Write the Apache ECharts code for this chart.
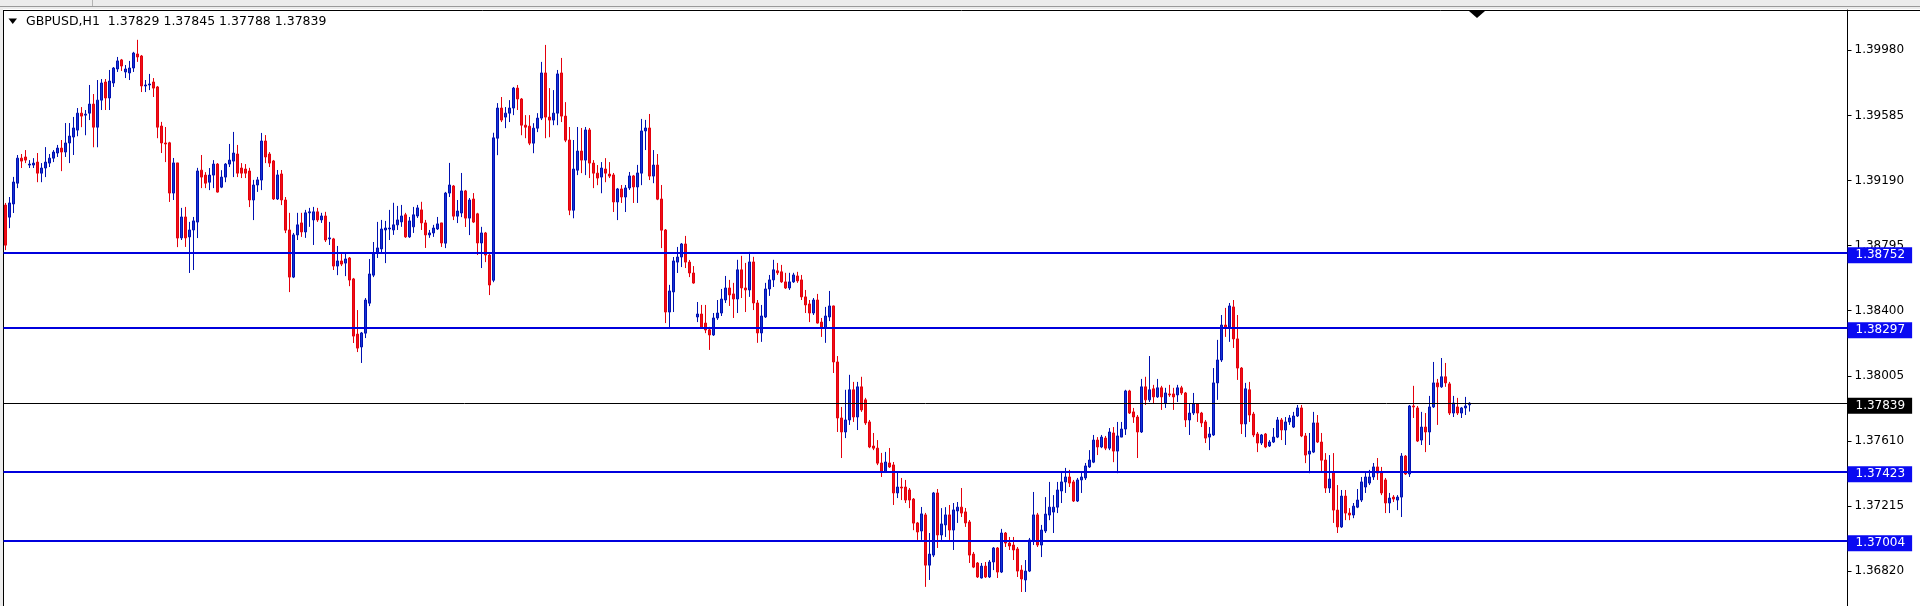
<!DOCTYPE html>
<html>
<head>
<meta charset="utf-8">
<script src="https://cdn.jsdelivr.net/npm/echarts@6/dist/echarts.min.js"></script>
<style>html,body{margin:0;padding:0;background:#fff;overflow:hidden}#c{width:1920px;height:606px}</style>
</head>
<body>
<div id="c"></div>
<script>
// ---- chart values ----
const symbolName = 'GBPUSD,H1';
const lastQuote = ['1.37829', '1.37845', '1.37788', '1.37839'];
const yTicks = [1.36820, 1.37215, 1.37610, 1.38005, 1.38400, 1.38795, 1.39190, 1.39585, 1.39980];
const levels = [1.38752, 1.38297, 1.37423, 1.37004];
const bidLevel = 1.37839;
const slotCount = 461; // hourly slots shown across the chart (incl. empty shift area)

const open = [
1.39041,1.38968,1.39048,1.39174,1.39326,1.39333,1.39284,1.39284,1.39302,1.39235,
1.39266,1.39296,1.39326,1.39357,1.39387,1.39363,1.39418,1.39454,1.39496,1.39599,
1.39587,1.39599,1.39654,1.39514,1.39678,1.39788,1.39691,1.39782,1.39867,1.39922,
1.39849,1.39843,1.39873,1.39958,1.39946,1.39764,1.39770,1.39788,1.39758,1.39521,
1.39418,1.39419,1.39114,1.39297,1.38842,1.38969,1.38848,1.38890,1.38938,1.39253,
1.39223,1.39180,1.39223,1.39290,1.39150,1.39211,1.39290,1.39308,1.39351,1.39266,
1.39260,1.39248,1.39072,1.39163,1.39193,1.39430,1.39351,1.39309,1.39078,1.39230,
1.39072,1.38890,1.38604,1.38860,1.38933,1.38878,1.38994,1.38951,1.39000,1.38951,
1.38975,1.38836,1.38836,1.38671,1.38702,1.38689,1.38720,1.38593,1.38258,1.38180,
1.38264,1.38446,1.38616,1.38750,1.38775,1.38890,1.38896,1.38890,1.38921,1.38939,
1.38982,1.38848,1.38909,1.38975,1.39012,1.38933,1.38860,1.38872,1.38896,1.38933,
1.38810,1.39114,1.39157,1.38974,1.38993,1.39127,1.38962,1.39078,1.38988,1.38811,
1.38872,1.38738,1.38585,1.39447,1.39630,1.39575,1.39599,1.39630,1.39751,1.39685,
1.39526,1.39520,1.39417,1.39508,1.39569,1.39843,1.39575,1.39557,1.39599,1.39843,
1.39581,1.39436,1.39010,1.39253,1.39369,1.39314,1.39497,1.39296,1.39235,1.39211,
1.39260,1.39229,1.39224,1.39060,1.39139,1.39090,1.39145,1.39218,1.39151,1.39235,
1.39491,1.39509,1.39217,1.39284,1.39078,1.38890,1.38392,1.38514,1.38695,1.38726,
1.38805,1.38695,1.38629,1.38362,1.38380,1.38325,1.38284,1.38253,1.38356,1.38386,
1.38465,1.38538,1.38502,1.38471,1.38648,1.38538,1.38526,1.38696,1.38447,1.38265,
1.38362,1.38532,1.38587,1.38642,1.38636,1.38575,1.38538,1.38575,1.38611,1.38587,
1.38484,1.38441,1.38386,1.38465,1.38331,1.38295,1.38362,1.38429,1.38089,1.37749,
1.37664,1.37737,1.37920,1.37755,1.37938,1.37859,1.37725,1.37579,1.37566,1.37476,
1.37421,1.37476,1.37464,1.37294,1.37330,1.37330,1.37312,1.37257,1.37112,1.37063,
1.37161,1.36856,1.36917,1.37294,1.37039,1.37100,1.37161,1.37069,1.37185,1.37208,
1.37179,1.37118,1.36923,1.36869,1.36778,1.36850,1.36784,1.36875,1.36960,1.36814,
1.37051,1.36990,1.36978,1.36954,1.36826,1.36766,1.36820,1.37002,1.37161,1.36978,
1.37063,1.37160,1.37178,1.37208,1.37306,1.37361,1.37391,1.37361,1.37245,1.37373,
1.37385,1.37452,1.37481,1.37615,1.37573,1.37627,1.37566,1.37658,1.37548,1.37633,
1.37682,1.37913,1.37786,1.37755,1.37664,1.37938,1.37859,1.37926,1.37877,1.37932,
1.37840,1.37895,1.37895,1.37889,1.37932,1.37901,1.37737,1.37779,1.37834,1.37779,
1.37725,1.37633,1.37646,1.37962,1.38101,1.38313,1.38301,1.38423,1.38229,1.38052,
1.37713,1.37920,1.37773,1.37652,1.37597,1.37652,1.37579,1.37603,1.37633,1.37737,
1.37676,1.37725,1.37694,1.37761,1.37810,1.37640,1.37530,1.37542,1.37719,1.37603,
1.37494,1.37324,1.37421,1.37190,1.37088,1.37275,1.37172,1.37160,1.37208,1.37251,
1.37330,1.37354,1.37391,1.37452,1.37421,1.37373,1.37233,1.37269,1.37251,1.37269,
1.37518,1.37409,1.37822,1.37810,1.37615,1.37694,1.37664,1.37816,1.37962,1.37938,
1.37999,1.37956,1.37779,1.37816,1.37779,1.37810,1.37829
];
const close = [
1.38798,1.39054,1.39181,1.39326,1.39308,1.39314,1.39290,1.39296,1.39235,1.39266,
1.39302,1.39326,1.39363,1.39387,1.39363,1.39418,1.39460,1.39509,1.39599,1.39581,
1.39593,1.39654,1.39514,1.39678,1.39782,1.39691,1.39794,1.39873,1.39916,1.39885,
1.39867,1.39873,1.39964,1.39940,1.39764,1.39770,1.39776,1.39751,1.39514,1.39418,
1.39412,1.39114,1.39297,1.38841,1.38969,1.38842,1.38890,1.38945,1.39248,1.39211,
1.39174,1.39223,1.39290,1.39120,1.39211,1.39290,1.39314,1.39357,1.39235,1.39235,
1.39235,1.39072,1.39163,1.39194,1.39430,1.39333,1.39296,1.39078,1.39224,1.39072,
1.38889,1.38604,1.38860,1.38921,1.38878,1.38994,1.39000,1.39000,1.38951,1.38975,
1.38829,1.38842,1.38671,1.38702,1.38683,1.38714,1.38586,1.38246,1.38173,1.38265,
1.38465,1.38623,1.38750,1.38781,1.38896,1.38902,1.38902,1.38921,1.38951,1.38975,
1.38848,1.38945,1.38982,1.39024,1.38933,1.38860,1.38872,1.38902,1.38927,1.38811,
1.39114,1.39163,1.38974,1.39005,1.39127,1.38962,1.39072,1.38938,1.38811,1.38872,
1.38738,1.38556,1.39449,1.39630,1.39557,1.39599,1.39630,1.39751,1.39685,1.39526,
1.39514,1.39417,1.39508,1.39569,1.39843,1.39575,1.39557,1.39599,1.39837,1.39581,
1.39435,1.39010,1.39260,1.39369,1.39314,1.39497,1.39296,1.39235,1.39205,1.39266,
1.39235,1.39217,1.39060,1.39139,1.39090,1.39145,1.39218,1.39151,1.39236,1.39491,
1.39509,1.39217,1.39284,1.39077,1.38889,1.38392,1.38520,1.38702,1.38726,1.38805,
1.38695,1.38629,1.38568,1.38380,1.38295,1.38283,1.38253,1.38356,1.38386,1.38471,
1.38538,1.38496,1.38471,1.38648,1.38538,1.38526,1.38696,1.38447,1.38265,1.38368,
1.38532,1.38587,1.38648,1.38630,1.38575,1.38538,1.38575,1.38617,1.38581,1.38484,
1.38435,1.38386,1.38465,1.38325,1.38295,1.38368,1.38429,1.38089,1.37749,1.37664,
1.37737,1.37920,1.37755,1.37938,1.37798,1.37719,1.37573,1.37566,1.37475,1.37421,
1.37482,1.37452,1.37294,1.37330,1.37324,1.37251,1.37251,1.37111,1.37057,1.37167,
1.36856,1.36923,1.37294,1.37039,1.37106,1.37161,1.37069,1.37191,1.37208,1.37172,
1.37112,1.36917,1.36844,1.36784,1.36850,1.36784,1.36875,1.36960,1.36814,1.37051,
1.36990,1.36972,1.36948,1.36820,1.36772,1.36820,1.37009,1.37161,1.36978,1.37069,
1.37166,1.37208,1.37208,1.37312,1.37361,1.37391,1.37354,1.37245,1.37373,1.37391,
1.37458,1.37494,1.37615,1.37573,1.37633,1.37566,1.37664,1.37548,1.37640,1.37682,
1.37913,1.37779,1.37755,1.37664,1.37938,1.37859,1.37920,1.37877,1.37932,1.37877,
1.37901,1.37889,1.37877,1.37932,1.37901,1.37737,1.37779,1.37834,1.37779,1.37719,
1.37627,1.37652,1.37962,1.38101,1.38313,1.38295,1.38429,1.38229,1.38052,1.37713,
1.37926,1.37767,1.37646,1.37597,1.37646,1.37573,1.37603,1.37633,1.37737,1.37676,
1.37725,1.37749,1.37761,1.37810,1.37640,1.37524,1.37548,1.37719,1.37603,1.37493,
1.37324,1.37379,1.37190,1.37088,1.37275,1.37172,1.37160,1.37214,1.37251,1.37361,
1.37391,1.37391,1.37452,1.37415,1.37294,1.37233,1.37263,1.37257,1.37269,1.37518,
1.37409,1.37822,1.37816,1.37609,1.37694,1.37664,1.37816,1.37962,1.37938,1.37999,
1.37962,1.37779,1.37840,1.37779,1.37810,1.37822,1.37839
];
const low = [
1.38768,1.38901,1.38993,1.39144,1.39266,1.39296,1.39266,1.39266,1.39180,1.39180,
1.39211,1.39272,1.39302,1.39333,1.39247,1.39333,1.39296,1.39345,1.39459,1.39514,
1.39465,1.39557,1.39392,1.39392,1.39618,1.39618,1.39618,1.39758,1.39849,1.39855,
1.39812,1.39800,1.39849,1.39910,1.39727,1.39727,1.39739,1.39697,1.39447,1.39357,
1.39302,1.39060,1.39072,1.38786,1.38829,1.38787,1.38629,1.38647,1.38841,1.39144,
1.39144,1.39132,1.39144,1.39117,1.39144,1.39180,1.39272,1.39211,1.39211,1.39205,
1.39205,1.39029,1.38950,1.39121,1.39132,1.39296,1.39272,1.39072,1.39072,1.39041,
1.38871,1.38513,1.38598,1.38829,1.38848,1.38842,1.38909,1.38799,1.38939,1.38933,
1.38817,1.38799,1.38647,1.38616,1.38671,1.38610,1.38549,1.38204,1.38149,1.38083,
1.38234,1.38428,1.38604,1.38720,1.38750,1.38689,1.38829,1.38860,1.38890,1.38909,
1.38842,1.38842,1.38872,1.38963,1.38890,1.38781,1.38842,1.38848,1.38890,1.38787,
1.38780,1.39090,1.38950,1.38932,1.38968,1.38908,1.38859,1.38932,1.38738,1.38659,
1.38695,1.38495,1.38573,1.39344,1.39545,1.39508,1.39545,1.39587,1.39618,1.39465,
1.39447,1.39405,1.39356,1.39484,1.39557,1.39447,1.39453,1.39526,1.39526,1.39545,
1.39423,1.38980,1.38961,1.39223,1.39235,1.39223,1.39205,1.39144,1.39162,1.39113,
1.39180,1.39205,1.38999,1.38950,1.39054,1.38999,1.39133,1.39054,1.39054,1.39162,
1.39375,1.39193,1.39174,1.39071,1.38780,1.38325,1.38301,1.38392,1.38629,1.38665,
1.38659,1.38604,1.38564,1.38331,1.38289,1.38264,1.38162,1.38247,1.38344,1.38368,
1.38447,1.38429,1.38356,1.38386,1.38477,1.38392,1.38484,1.38404,1.38205,1.38211,
1.38356,1.38490,1.38544,1.38617,1.38569,1.38532,1.38526,1.38569,1.38569,1.38465,
1.38386,1.38331,1.38374,1.38322,1.38241,1.38205,1.38337,1.38022,1.37664,1.37506,
1.37627,1.37707,1.37725,1.37676,1.37786,1.37707,1.37566,1.37554,1.37463,1.37391,
1.37415,1.37446,1.37221,1.37263,1.37251,1.37233,1.37202,1.37068,1.37009,1.37009,
1.36724,1.36766,1.36905,1.36960,1.37009,1.37027,1.37009,1.36948,1.37112,1.37148,
1.37088,1.36869,1.36838,1.36778,1.36775,1.36778,1.36778,1.36826,1.36778,1.36808,
1.36966,1.36948,1.36887,1.36784,1.36693,1.36693,1.36814,1.36978,1.36966,1.36905,
1.37051,1.37129,1.37051,1.37172,1.37233,1.37294,1.37330,1.37239,1.37239,1.37294,
1.37373,1.37446,1.37475,1.37524,1.37566,1.37554,1.37554,1.37481,1.37414,1.37633,
1.37646,1.37773,1.37719,1.37506,1.37658,1.37828,1.37846,1.37840,1.37871,1.37798,
1.37810,1.37877,1.37798,1.37846,1.37889,1.37694,1.37646,1.37767,1.37725,1.37694,
1.37597,1.37554,1.37640,1.37859,1.38089,1.38241,1.38211,1.38174,1.37980,1.37652,
1.37633,1.37725,1.37633,1.37542,1.37585,1.37566,1.37573,1.37597,1.37627,1.37615,
1.37585,1.37707,1.37688,1.37755,1.37633,1.37475,1.37414,1.37536,1.37597,1.37421,
1.37294,1.37294,1.37112,1.37051,1.37082,1.37129,1.37129,1.37141,1.37202,1.37239,
1.37294,1.37342,1.37373,1.37373,1.37281,1.37172,1.37172,1.37239,1.37190,1.37148,
1.37403,1.37391,1.37749,1.37603,1.37585,1.37542,1.37585,1.37810,1.37707,1.37932,
1.37938,1.37767,1.37755,1.37767,1.37749,1.37767,1.37788
];
const high = [
1.39054,1.39090,1.39212,1.39345,1.39351,1.39375,1.39314,1.39326,1.39357,1.39296,
1.39393,1.39351,1.39375,1.39406,1.39436,1.39539,1.39539,1.39576,1.39630,1.39636,
1.39618,1.39770,1.39715,1.39800,1.39806,1.39806,1.39861,1.39879,1.39940,1.39928,
1.39891,1.39916,1.39971,1.40044,1.39952,1.39800,1.39837,1.39812,1.39764,1.39546,
1.39515,1.39425,1.39327,1.39297,1.39024,1.39030,1.38939,1.38969,1.39267,1.39345,
1.39241,1.39266,1.39314,1.39296,1.39253,1.39296,1.39412,1.39485,1.39406,1.39296,
1.39290,1.39267,1.39194,1.39212,1.39479,1.39466,1.39363,1.39315,1.39254,1.39254,
1.39090,1.38994,1.38872,1.38994,1.38994,1.39012,1.39024,1.39030,1.39024,1.38994,
1.39000,1.38939,1.38842,1.38793,1.38744,1.38750,1.38726,1.38599,1.38404,1.38271,
1.38477,1.38714,1.38817,1.38939,1.38951,1.38945,1.39012,1.39055,1.39036,1.39042,
1.38994,1.38969,1.39030,1.39042,1.39061,1.38951,1.38890,1.38921,1.38969,1.38933,
1.39121,1.39297,1.39163,1.39072,1.39236,1.39133,1.39084,1.39114,1.38994,1.38909,
1.38878,1.38750,1.39480,1.39660,1.39697,1.39636,1.39678,1.39758,1.39770,1.39691,
1.39587,1.39587,1.39538,1.39599,1.39910,1.40013,1.39751,1.39739,1.39861,1.39934,
1.39666,1.39515,1.39436,1.39515,1.39509,1.39515,1.39509,1.39314,1.39284,1.39302,
1.39326,1.39302,1.39236,1.39145,1.39163,1.39163,1.39242,1.39224,1.39285,1.39564,
1.39558,1.39594,1.39375,1.39351,1.39163,1.38896,1.38557,1.38726,1.38787,1.38811,
1.38854,1.38708,1.38671,1.38453,1.38435,1.38435,1.38302,1.38386,1.38465,1.38532,
1.38611,1.38587,1.38569,1.38709,1.38733,1.38690,1.38757,1.38727,1.38465,1.38435,
1.38569,1.38617,1.38709,1.38690,1.38678,1.38630,1.38630,1.38630,1.38636,1.38617,
1.38526,1.38465,1.38477,1.38502,1.38356,1.38423,1.38520,1.38431,1.38125,1.37816,
1.37920,1.38011,1.37968,1.37968,1.37999,1.37871,1.37737,1.37658,1.37615,1.37537,
1.37543,1.37567,1.37482,1.37421,1.37385,1.37373,1.37324,1.37263,1.37118,1.37209,
1.37173,1.37051,1.37300,1.37318,1.37202,1.37208,1.37221,1.37233,1.37239,1.37324,
1.37203,1.37130,1.36936,1.36875,1.36869,1.36875,1.36887,1.36966,1.36966,1.37076,
1.37057,1.37027,1.37027,1.36966,1.36856,1.36887,1.37021,1.37300,1.37173,1.37100,
1.37269,1.37361,1.37281,1.37361,1.37415,1.37446,1.37434,1.37373,1.37385,1.37415,
1.37476,1.37554,1.37646,1.37633,1.37646,1.37640,1.37688,1.37694,1.37725,1.37725,
1.37920,1.37920,1.37810,1.37767,1.37986,1.37999,1.38125,1.37950,1.37986,1.37944,
1.37932,1.37950,1.37932,1.37950,1.37944,1.37907,1.37840,1.37901,1.37840,1.37786,
1.37737,1.37694,1.38052,1.38223,1.38374,1.38417,1.38447,1.38465,1.38374,1.38058,
1.37962,1.37968,1.37786,1.37664,1.37652,1.37658,1.37615,1.37688,1.37755,1.37749,
1.37755,1.37767,1.37786,1.37828,1.37828,1.37658,1.37658,1.37786,1.37767,1.37658,
1.37536,1.37524,1.37536,1.37342,1.37312,1.37312,1.37202,1.37233,1.37318,1.37391,
1.37415,1.37434,1.37476,1.37506,1.37452,1.37385,1.37294,1.37281,1.37281,1.37536,
1.37524,1.37828,1.37944,1.37822,1.37786,1.37779,1.37883,1.38089,1.37986,1.38113,
1.38083,1.37968,1.37883,1.37871,1.37816,1.37877,1.37845
];

// ---- build ----
const categories = Array.from({ length: slotCount }, (_, i) => 'h' + i);
const candles = open.map((o, i) => [o, close[i], low[i], high[i]]);

const FONT = 'DejaVu Sans';
const tagStyle = (bg) => ({
  backgroundColor: bg, color: '#ffffff', fontFamily: FONT, fontSize: 12,
  lineHeight: 16, padding: [2, 7, 2, 8]
});
const labelRich = {
  s: { fontSize: 1, lineHeight: 5 },
  b: tagStyle('#0a0af2'),
  k: tagStyle('#000000')
};
const markData = levels.map(v => ({
  yAxis: v,
  lineStyle: { color: '#0000dd', width: 2, type: 'solid' },
  label: { formatter: p => '{s| }\n{b|' + Number(p.value).toFixed(5) + '}' }
}));
markData.push({
  yAxis: bidLevel,
  lineStyle: { color: '#000000', width: 1, type: 'solid' },
  label: { formatter: p => '{s| }\n{k|' + Number(p.value).toFixed(5) + '}' }
});

const chart = echarts.init(document.getElementById('c'), null, { renderer: 'canvas' });
chart.setOption({
  animation: false,
  backgroundColor: '#ffffff',
  textStyle: { fontFamily: FONT },
  title: {
    text: symbolName + '  ' + lastQuote.join(' '),
    left: 26, top: 15, padding: 0,
    textStyle: { fontFamily: FONT, fontSize: 12.5, fontWeight: 'normal', color: '#000000' }
  },
  grid: { left: 3.5, right: 72.5, top: 10, bottom: 0 },
  xAxis: { type: 'category', data: categories, show: false, boundaryGap: true },
  yAxis: {
    type: 'value', position: 'right',
    min: 1.36608, max: 1.40225,
    splitLine: { show: false },
    axisLine: { show: true, lineStyle: { color: '#000000', width: 1 } },
    axisTick: { show: true, inside: false, length: 4, lineStyle: { color: '#000000' }, customValues: yTicks },
    axisLabel: {
      customValues: yTicks, margin: 7, color: '#000000', fontFamily: FONT, fontSize: 12,
      formatter: v => Number(v).toFixed(5)
    }
  },
  series: [{
    type: 'candlestick',
    data: candles,
    barWidth: 2.6,
    itemStyle: {
      color: '#1433d6', borderColor: '#0010b0',
      color0: '#ee1018', borderColor0: '#e4000c',
      borderWidth: 1
    },
    markLine: {
      silent: true,
      precision: 5,
      symbol: ['none', 'none'],
      animation: false,
      label: { show: true, position: 'end', distance: 0, rich: labelRich },
      data: markData
    }
  }],
  graphic: [
    { type: 'rect', shape: { x: 0, y: 0, width: 1920, height: 9 }, style: { fill: '#ececec' }, silent: true },
    { type: 'line', shape: { x1: 0, y1: 6.5, x2: 1920, y2: 6.5 }, style: { stroke: '#9a9a9a', lineWidth: 1 }, silent: true },
    { type: 'line', shape: { x1: 92.5, y1: 0, x2: 92.5, y2: 6 }, style: { stroke: '#b4b4b4', lineWidth: 1 }, silent: true },
    { type: 'rect', shape: { x: 0, y: 9, width: 3, height: 597 }, style: { fill: '#ececec' }, silent: true },
    { type: 'line', shape: { x1: 3, y1: 10.5, x2: 1920, y2: 10.5 }, style: { stroke: '#000000', lineWidth: 1 }, silent: true },
    { type: 'line', shape: { x1: 3.5, y1: 10, x2: 3.5, y2: 606 }, style: { stroke: '#000000', lineWidth: 1 }, silent: true },
    { type: 'polygon', shape: { points: [[8.5, 18.5], [17, 18.5], [12.75, 24]] }, style: { fill: '#000000' }, silent: true },
    { type: 'polygon', shape: { points: [[1469, 11], [1485, 11], [1477, 18]] }, style: { fill: '#000000' }, silent: true }
  ]
});
</script>
</body>
</html>
